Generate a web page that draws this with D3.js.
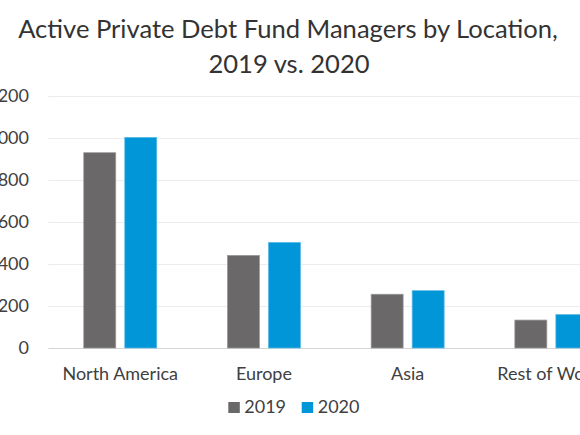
<!DOCTYPE html>
<html lang="en">
<head>
    <meta charset="UTF-8">
    <title>Active Private Debt Fund Managers by Location</title>
    <script src="https://d3js.org/d3.v7.min.js"></script>
    <style>
        body { margin: 0; background: #fff; }
        svg { font-family: Lato, "Open Sans", sans-serif; }
        .tick-label, .cat-label, .legend-label { font-size: 18px; fill: #404040; }
        .title { font-size: 23px; fill: #333; text-anchor: middle; }
    </style>
</head>
<body>
    <div id="chart"></div>
    <script>
        // Chart data
        const locations = ["North America", "Europe", "Asia", "Rest of World"];
        const years = ["2019", "2020"];
        const values2019 = [930, 441, 256, 133];
        const values2020 = [1003, 503, 273, 159];
        const yTicks = [0, 200, 400, 600, 800, 1000, 1200];
        const titleLines = ["Active Private Debt Fund Managers by Location,", "2019 vs. 2020"];

        const width = 580;
        const height = 435;
        const colors = {"2019": "#6a6868", "2020": "#0096d8"};
        const strokes = {"2019": "#9a9898", "2020": "#5cbbe8"};

        const svg = d3.select("#chart")
            .append("svg")
            .attr("width", width)
            .attr("height", height);

        // Scales (plot extends past right edge, as in the cropped original)
        const x0 = d3.scaleBand()
            .domain(locations)
            .range([48.4, 623.2]);

        const x1 = d3.scaleBand()
            .domain(years)
            .range([0, x0.bandwidth()])
            .paddingInner(0.22)
            .paddingOuter(0.862);

        const y = d3.scaleLinear()
            .domain([0, 1200])
            .range([348, 96]);

        // Gridlines
        svg.append("g")
            .selectAll("line")
            .data(yTicks)
            .join("line")
            .attr("x1", 48.4)
            .attr("x2", width)
            .attr("y1", d => y(d) + 0.5)
            .attr("y2", d => y(d) + 0.5)
            .attr("stroke", d => d === 0 ? "#d6d6d6" : "#ececec")
            .attr("stroke-width", 1);

        // Y tick labels
        svg.append("g")
            .selectAll("text")
            .data(yTicks)
            .join("text")
            .attr("class", "tick-label")
            .attr("x", 29)
            .attr("y", d => y(d))
            .attr("dy", "0.35em")
            .attr("text-anchor", "end")
            .text(d => d);

        // Bars
        const rows = locations.map((loc, i) => ({loc, "2019": values2019[i], "2020": values2020[i]}));

        svg.append("g")
            .selectAll("g")
            .data(rows)
            .join("g")
            .attr("transform", d => `translate(${x0(d.loc)},0)`)
            .selectAll("rect")
            .data(d => years.map(yr => ({yr, v: d[yr]})))
            .join("rect")
            .attr("x", d => x1(d.yr))
            .attr("y", d => y(d.v))
            .attr("width", x1.bandwidth())
            .attr("height", d => y(0) - y(d.v))
            .attr("fill", d => colors[d.yr])
            .attr("stroke", d => strokes[d.yr])
            .attr("stroke-width", 0.75);

        // Category labels
        svg.append("g")
            .selectAll("text")
            .data(locations)
            .join("text")
            .attr("class", "cat-label")
            .attr("x", d => x0(d) + x0.bandwidth() / 2)
            .attr("y", 380)
            .attr("text-anchor", "middle")
            .text(d => d);

        // Title
        const title = svg.append("g");
        const t1 = title.append("text")
            .attr("class", "title")
            .attr("x", 288)
            .attr("y", 37.5)
            .text(titleLines[0]);
        // size the title so the first line spans about 540px like the original
        const w = t1.node().getComputedTextLength();
        const fs = 23 * 540 / w;
        t1.style("font-size", fs + "px");
        title.append("text")
            .attr("class", "title")
            .style("font-size", fs + "px")
            .attr("x", 289)
            .attr("y", 73)
            .text(titleLines[1]);

        // Legend
        const legendX = [228.3, 301.7];
        const legend = svg.append("g")
            .selectAll("g")
            .data(years)
            .join("g")
            .attr("transform", (d, i) => `translate(${legendX[i]},0)`);

        legend.append("rect")
            .attr("x", 0)
            .attr("y", 402)
            .attr("width", 11.5)
            .attr("height", 11)
            .attr("fill", d => colors[d]);

        legend.append("text")
            .attr("class", "legend-label")
            .attr("x", 16)
            .attr("y", 413)
            .text(d => d);
    </script>
</body>
</html>
